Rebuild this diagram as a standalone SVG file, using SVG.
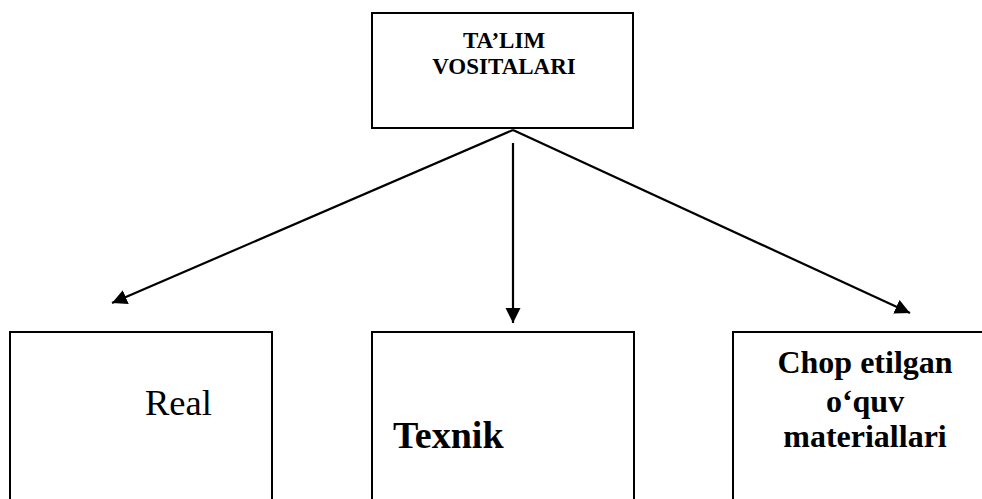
<svg xmlns="http://www.w3.org/2000/svg" width="982" height="499" viewBox="0 0 982 499">
<style>
.box{fill:#fff;stroke:#000;stroke-width:2}
.t{font-family:"Liberation Serif","Times New Roman",serif;fill:#000}
.b{font-weight:bold}
.c{stroke:#000;stroke-width:2.2;fill:none}
</style>
<defs>
<marker id="ah" markerUnits="userSpaceOnUse" markerWidth="16" markerHeight="16" refX="15" refY="7.5" orient="auto" viewBox="0 0 16 16">
<path d="M0,0 L15,7.5 L0,15 z" fill="#000"/>
</marker>
</defs>
<rect width="982" height="499" fill="#fff"/>
<g id="connectors">
<line class="c" x1="513" y1="130" x2="112" y2="303" marker-end="url(#ah)"/>
<line class="c" x1="513" y1="143" x2="513" y2="323" marker-end="url(#ah)"/>
<line class="c" x1="513" y1="130" x2="910" y2="313" marker-end="url(#ah)"/>
</g>
<g id="top">
<rect class="box" x="372" y="13" width="261" height="115"/>
<text class="t b" font-size="23" text-anchor="middle" x="504" y="48">TA’LIM</text>
<text class="t b" font-size="23" text-anchor="middle" x="504" y="74">VOSITALARI</text>
</g>
<g id="real">
<rect class="box" x="10" y="332" width="262" height="180"/>
<text class="t" font-size="36.5" x="145" y="415">Real</text>
</g>
<g id="texnik">
<rect class="box" x="372" y="332" width="262" height="180"/>
<text class="t b" font-size="38" x="393" y="448">Texnik</text>
</g>
<g id="chop">
<rect class="box" x="733" y="332" width="262" height="180"/>
<text class="t b" font-size="32" text-anchor="middle" x="865" y="373">Chop etilgan</text>
<text class="t b" font-size="32" text-anchor="middle" x="865" y="412">o‘quv</text>
<text class="t b" font-size="32" text-anchor="middle" x="865" y="447">materiallari</text>
</g>
</svg>
